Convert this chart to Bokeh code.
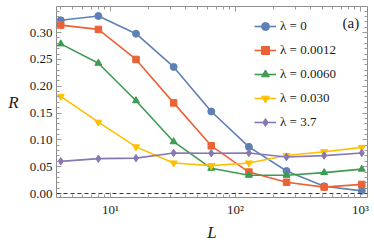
from bokeh.plotting import figure
from bokeh.models import (FixedTicker, SingleIntervalTicker, PrintfTickFormatter,
                          LinearAxis, LogAxis, Span, Label, Legend)
from bokeh.embed import file_html
from bokeh.resources import INLINE

L = [4, 8, 16, 32, 64, 128, 256, 512, 1024]
R_0 = [0.323, 0.331, 0.298, 0.236, 0.153, 0.087, 0.042, 0.0135, 0.005]
R_00012 = [0.314, 0.306, 0.250, 0.169, 0.089, 0.040, 0.021, 0.012, 0.017]
R_0060 = [0.279, 0.243, 0.173, 0.0966, 0.047, 0.034, 0.034, 0.039, 0.0455]
R_030 = [0.181, 0.133, 0.087, 0.057, 0.052, 0.057, 0.071, 0.078, 0.086]
R_37 = [0.060, 0.065, 0.066, 0.0757, 0.075, 0.0757, 0.068, 0.0707, 0.0757]

labels = ["λ = 0", "λ = 0.0012", "λ = 0.0060", "λ = 0.030", "λ = 3.7"]
series = [R_0, R_00012, R_0060, R_030, R_37]
colors = ["#5E81B5", "#EB6235", "#3E9B52", "#FFBF00", "#8778B3"]
markers = ["circle", "square", "triangle", "inverted_triangle", "diamond"]
msizes = [7, 6.5, 7, 7, 7.5]

x_major = [10, 100, 1000]
x_major_labels = {10: "10¹", 100: "10²", 1000: "10³"}
x_minor = [m * 10 ** e for e in range(0, 4) for m in range(1, 10)]

FONT = "Liberation Serif"
TICK_COL = "#9a9a9a"

p = figure(width=374, height=244, x_axis_type="log",
           x_range=(3.698, 1138), y_range=(-0.0074, 0.3487),
           output_backend="svg", toolbar_location=None,
           min_border_left=56, min_border_right=7, min_border_top=6,
           min_border_bottom=45)
p.grid.visible = False
p.outline_line_color = "#8c8c8c"
p.outline_line_width = 1
p.background_fill_color = "white"
p.border_fill_color = "white"

xt = FixedTicker(ticks=x_major, minor_ticks=x_minor)
yt = SingleIntervalTicker(interval=0.05, num_minor_ticks=5)


def style(ax, labels_on=True):
    ax.axis_line_alpha = 0
    ax.major_tick_in = 5
    ax.major_tick_out = 0
    ax.minor_tick_in = 3
    ax.minor_tick_out = 0
    ax.major_tick_line_color = TICK_COL
    ax.minor_tick_line_color = TICK_COL
    ax.major_label_text_font = FONT
    ax.major_label_text_font_size = "13px"
    ax.major_label_text_color = "#1a1a1a"
    ax.axis_label_text_font = FONT
    ax.axis_label_text_font_style = "italic"
    ax.axis_label_text_font_size = "17px"
    ax.axis_label_text_color = "#1a1a1a"
    if not labels_on:
        ax.major_label_text_font_size = "1px"
        ax.major_label_text_alpha = 0
        ax.major_label_standoff = 0


p.xaxis.ticker = xt
p.xaxis.major_label_overrides = x_major_labels
p.yaxis.ticker = yt
p.yaxis.formatter = PrintfTickFormatter(format="%.2f")
style(p.xaxis[0])
style(p.yaxis[0])
p.xaxis.axis_label = "L"
p.xaxis.major_label_standoff = 4
p.xaxis.axis_label_standoff = 3
p.yaxis.axis_label = "R"
p.yaxis.axis_label_orientation = "horizontal"
p.yaxis.major_label_standoff = 4
p.yaxis.axis_label_standoff = 8

top_ax = LogAxis(ticker=FixedTicker(ticks=x_major, minor_ticks=x_minor))
style(top_ax, labels_on=False)
p.add_layout(top_ax, "above")
right_ax = LinearAxis(ticker=SingleIntervalTicker(interval=0.05, num_minor_ticks=5))
style(right_ax, labels_on=False)
p.add_layout(right_ax, "right")

p.add_layout(Span(location=0, dimension="width", line_color="#333333",
                  line_width=1, line_dash="4 3"))

items = []
for lab, ys, c, mk, ms in zip(labels, series, colors, markers, msizes):
    ln = p.line(L, ys, line_color=c, line_width=1.6)
    sc = p.scatter(L, ys, marker=mk, size=ms, fill_color=c, line_color=c)
    items.append((lab, [ln, sc]))

legend = Legend(items=items, location=(198, 65))
legend.border_line_alpha = 0
legend.background_fill_alpha = 0
legend.padding = 0
legend.margin = 0
legend.spacing = 4
legend.label_height = 20
legend.glyph_height = 20
legend.glyph_width = 22
legend.label_standoff = 4
legend.label_text_font = FONT
legend.label_text_font_size = "13px"
legend.label_text_color = "#1a1a1a"
p.add_layout(legend)

p.add_layout(Label(x=286, y=175, x_units="screen", y_units="screen",
                   text="(a)", text_font=FONT, text_font_size="15px",
                   text_baseline="middle", text_color="#1a1a1a"))

open("out.html", "w").write(file_html(p, INLINE))
